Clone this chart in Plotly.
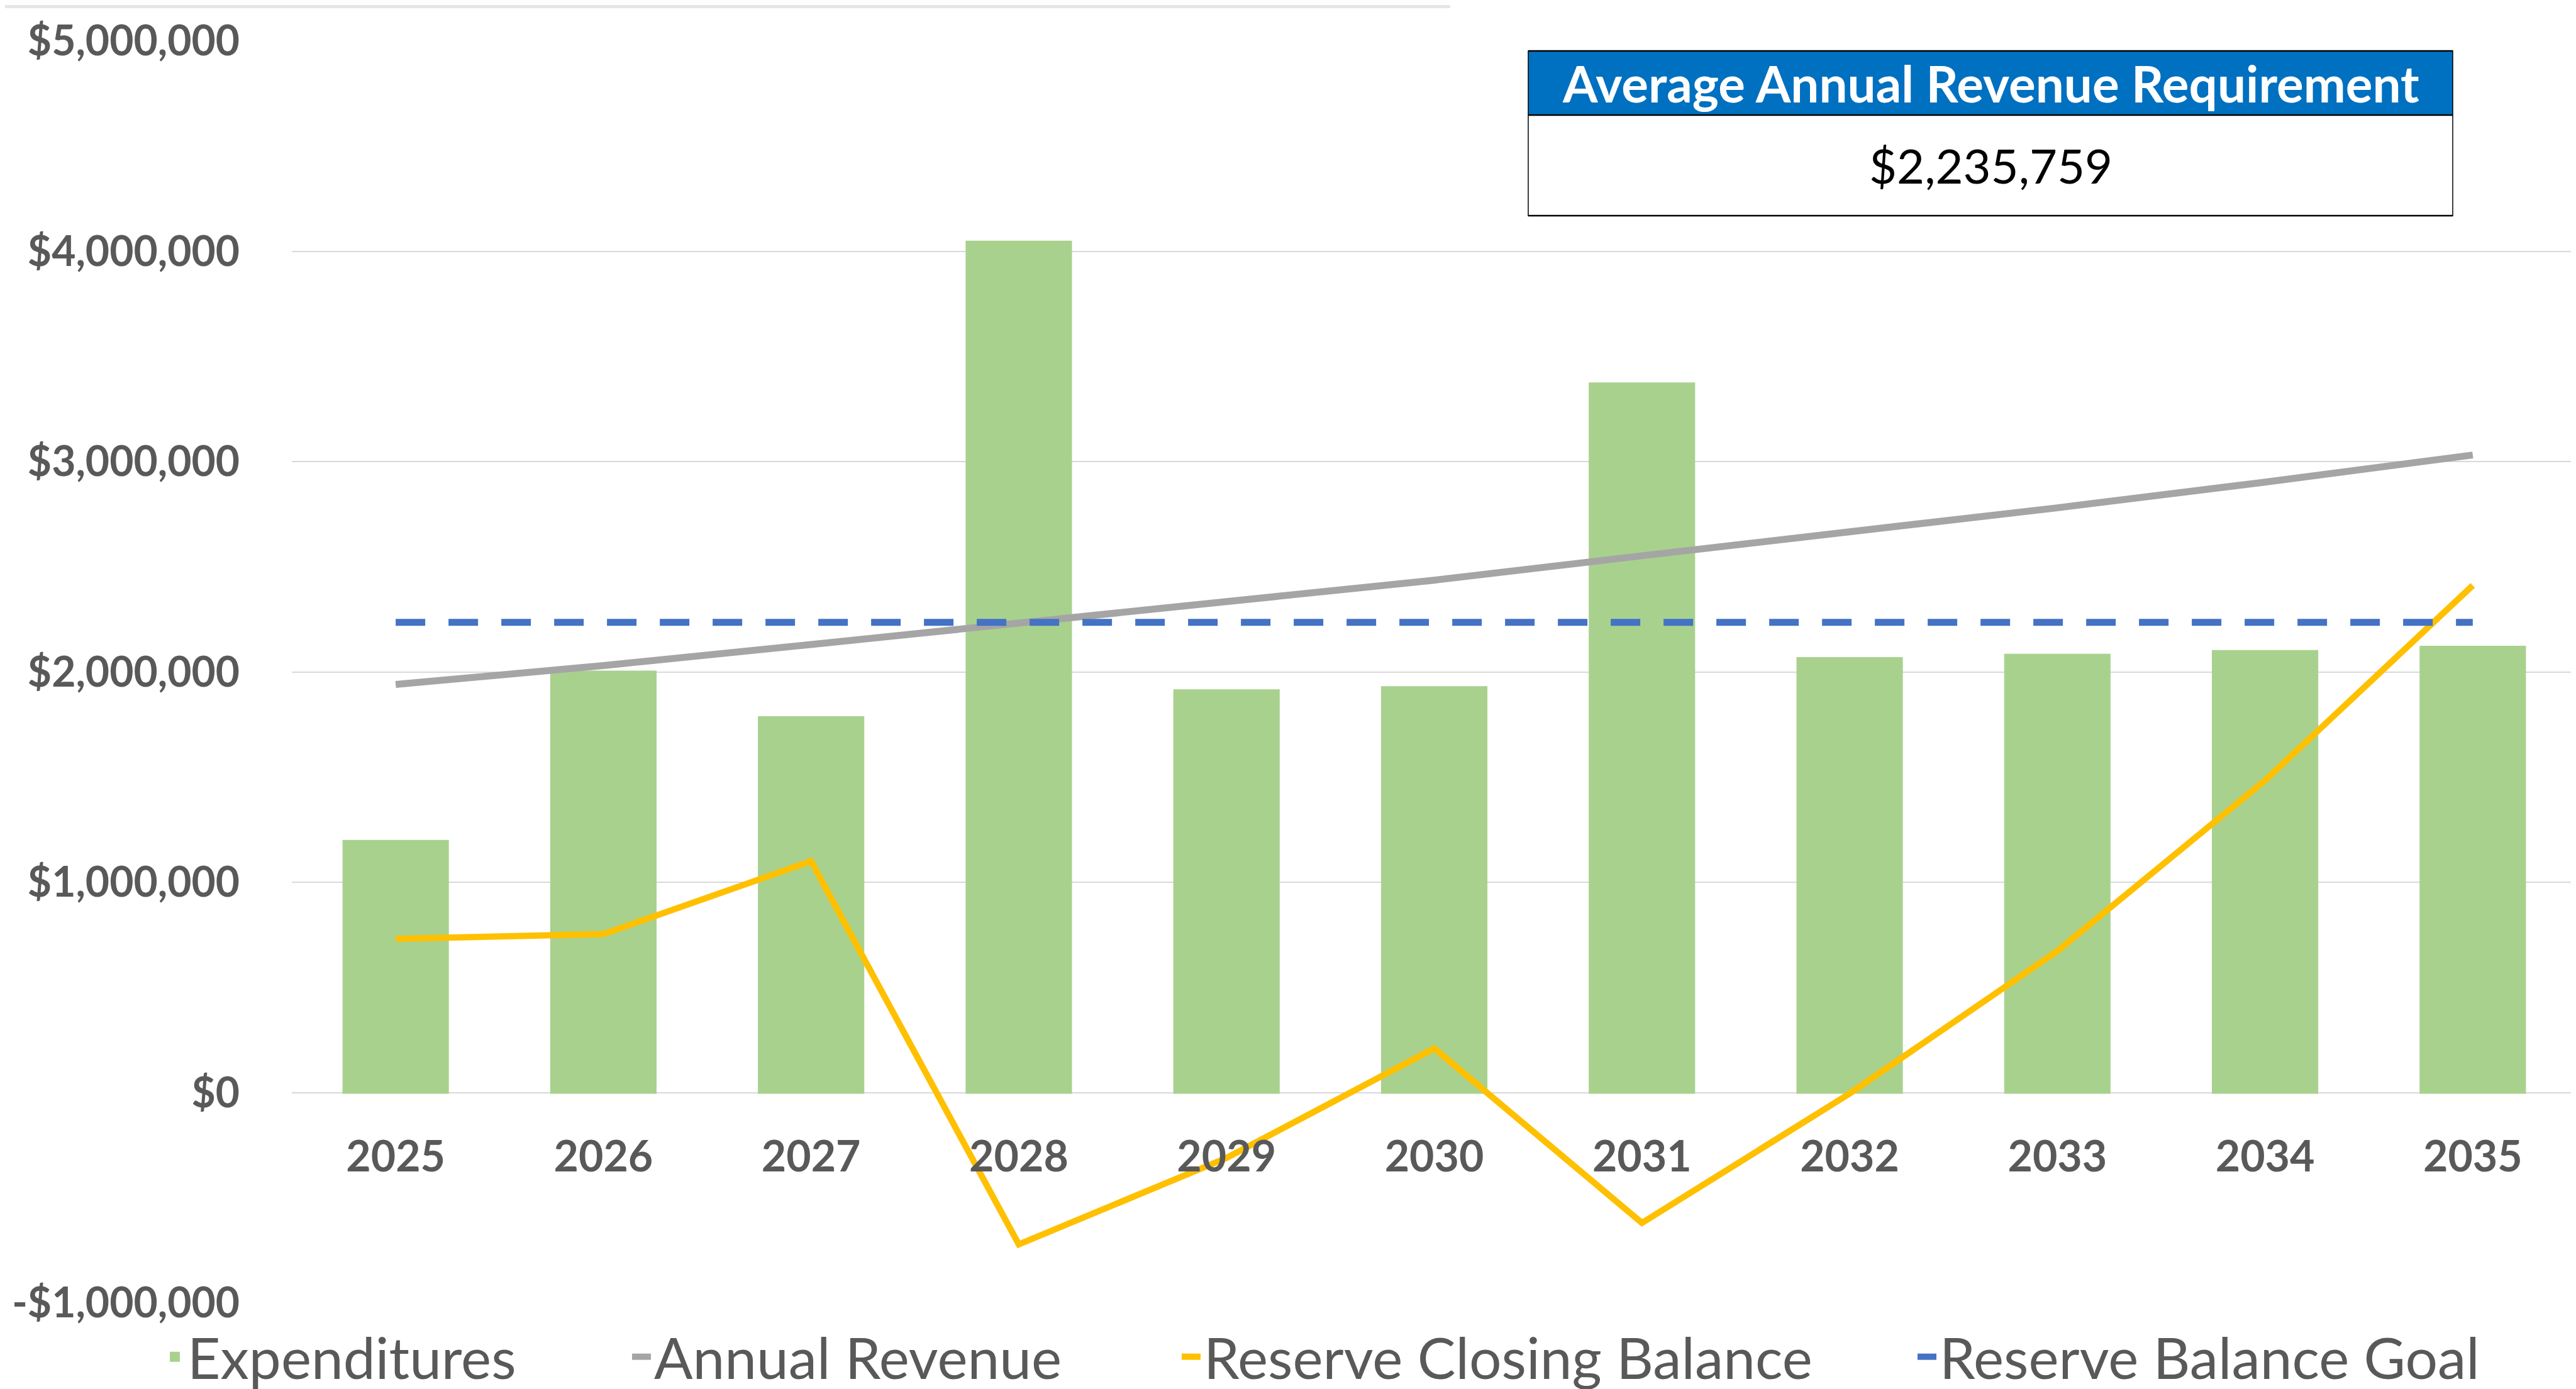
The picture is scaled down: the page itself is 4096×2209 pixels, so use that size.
import plotly.graph_objects as go

# ---------------- data ----------------
years = ["2025", "2026", "2027", "2028", "2029", "2030", "2031", "2032", "2033", "2034", "2035"]
expenditures = [1195000, 2000000, 1783000, 4044000, 1911000, 1926000, 3370000, 2064000, 2080000, 2098000, 2118000]
annual_revenue = [1940000, 2030000, 2130000, 2233000, 2332000, 2436000, 2552000, 2664000, 2780000, 2902000, 3031000]
reserve_closing = [731000, 753000, 1100000, -722000, -311000, 210000, -620000, -5000, 673000, 1484000, 2411000]
reserve_goal = [2235759, 2235759, 2235759, 2235759, 2235759, 2235759, 2235759, 2235759, 2235759, 2235759, 2235759]
y_tickvals = [-1000000, 0, 1000000, 2000000, 3000000, 4000000, 5000000]
y_ticktext = ["-$1,000,000", "$0", "$1,000,000", "$2,000,000", "$3,000,000", "$4,000,000", "$5,000,000"]
table_title = "Average Annual Revenue Requirement"
table_value = "$2,235,759"

# ---------------- layout geometry (window px) ----------------
W, H = 4096, 2209
L, R, T, B = 456, 4089, 57, 2064
PW, PH = R - L, B - T


def px(x):
    return (x - L) / PW


def py(y):
    return (B - y) / PH


GREY_TXT = "#595959"
FONT = "Lato"

fig = go.Figure()
fig.add_trace(go.Bar(x=years, y=expenditures, name="Expenditures",
                     marker=dict(color="#A9D18E", line=dict(width=4, color="#A9D18E")),
                     legend="legend", showlegend=True))
fig.add_trace(go.Scatter(x=years, y=annual_revenue, name="Annual Revenue", mode="lines",
                         line=dict(color="#A5A5A5", width=11), legend="legend2", showlegend=True))
fig.add_trace(go.Scatter(x=years, y=reserve_closing, name="Reserve Closing Balance", mode="lines",
                         line=dict(color="#FFC000", width=10), legend="legend3", showlegend=True))
fig.add_trace(go.Scatter(x=years, y=reserve_goal, name="Reserve Balance Goal", mode="lines",
                         line=dict(color="#4472C4", width=11, dash="47px,37px"), legend="legend4",
                         showlegend=True))

leg_font = dict(family=FONT, size=91, color=GREY_TXT)
leg_y = (H - 2165 + 15) / H


def leg(text_start):
    return dict(orientation="h", xref="container", yref="container",
                x=(text_start - 40) / W, xanchor="left", y=leg_y, yanchor="middle",
                font=leg_font, bgcolor="rgba(0,0,0,0)", borderwidth=0, itemwidth=30,
                visible=True)


shapes = []
# faint strip at very top
shapes.append(dict(type="rect", xref="paper", yref="paper", x0=px(0), x1=px(2298), y0=py(5), y1=py(0),
                   fillcolor="#E6E6E6", line=dict(width=0), layer="above"))
# table box
bx0, bx1, by0, bym, by1 = 2422, 3892, 73, 175, 335
shapes.append(dict(type="rect", xref="paper", yref="paper", x0=px(bx0), x1=px(bx1), y0=py(bym), y1=py(by0),
                   fillcolor="#0070C0", line=dict(width=0), layer="above"))
shapes.append(dict(type="rect", xref="paper", yref="paper", x0=px(bx0), x1=px(bx1), y0=py(by1), y1=py(bym),
                   fillcolor="#FFFFFF", line=dict(width=0), layer="above"))
shapes.append(dict(type="rect", xref="paper", yref="paper", x0=px(bx0), x1=px(bx1), y0=py(by1), y1=py(by0),
                   fillcolor="rgba(0,0,0,0)", line=dict(color="#000000", width=1.5), layer="above"))
for yy in (by0, bym, by1):
    shapes.append(dict(type="line", xref="paper", yref="paper", x0=px(bx0), x1=px(bx1), y0=py(yy), y1=py(yy),
                       line=dict(color="#000000", width=2.5), layer="above"))

annotations = [
    dict(xref="paper", yref="paper", x=px((bx0 + bx1) / 2), y=py((by0 + bym) / 2), text=table_title,
         showarrow=False, xanchor="center", yanchor="middle",
         font=dict(family=FONT, size=80, color="#FFFFFF", weight="bold")),
    dict(xref="paper", yref="paper", x=px((bx0 + bx1) / 2), y=py((bym + by1) / 2), text=table_value,
         showarrow=False, xanchor="center", yanchor="middle",
         font=dict(family=FONT, size=76, color="#000000")),
]

fig.update_layout(
    width=W, height=H,
    margin=dict(l=L, r=W - R, t=T, b=H - B, pad=0, autoexpand=False),
    paper_bgcolor="#FFFFFF", plot_bgcolor="#FFFFFF",
    showlegend=True,
    bargap=0.5,
    font=dict(family=FONT, color=GREY_TXT),
    legend=leg(290), legend2=leg(1032), legend3=leg(1906), legend4=leg(3076),
    shapes=shapes, annotations=annotations,
    xaxis=dict(type="category", range=[-0.5, 10.5], anchor="free", position=1 / 6,
               showgrid=False, showline=False, zeroline=False, ticks="",
               tickfont=dict(family=FONT, size=68, color=GREY_TXT, weight="bold"),
               ticklabelstandoff=56),
    yaxis=dict(range=[-1000000, 5000000], tickvals=y_tickvals, ticktext=y_ticktext,
               showgrid=True, gridcolor="#D9D9D9", gridwidth=2, zeroline=False, showline=False, ticks="",
               tickfont=dict(family=FONT, size=66, color=GREY_TXT, weight="bold"),
               ticklabelstandoff=82),
    hovermode=False,
)

fig.write_html("out.html")
